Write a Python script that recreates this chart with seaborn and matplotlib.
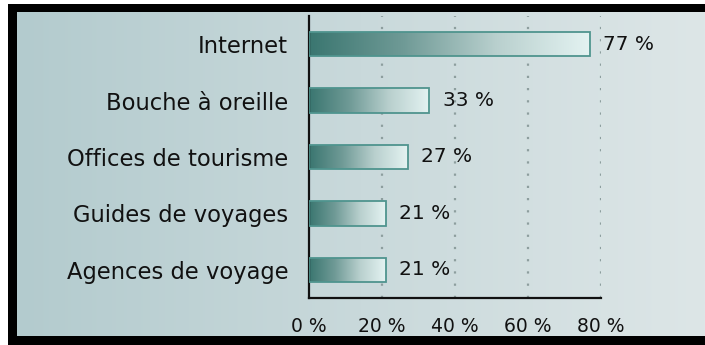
import numpy as np
import matplotlib
matplotlib.use("Agg")
import matplotlib.pyplot as plt
from matplotlib.colors import LinearSegmentedColormap
from matplotlib.patches import Rectangle
import seaborn as sns

categories = ["Internet", "Bouche à oreille", "Offices de tourisme",
              "Guides de voyages", "Agences de voyage"]
values = [77, 33, 27, 21, 21]
xticks = [0, 20, 40, 60, 80]
xtick_labels = ["0 %", "20 %", "40 %", "60 %", "80 %"]

sns.set_style("white")
plt.rcParams["font.family"] = ["DejaVu Sans"]

W, H = 705, 345
fig = plt.figure(figsize=(W / 100, H / 100), dpi=100, facecolor="white")

def px_rect(x0, y0, x1, y1):
    return [x0 / W, 1 - y1 / H, (x1 - x0) / W, (y1 - y0) / H]

# background panel gradient
bg = fig.add_axes(px_rect(17, 12, 705, 336), zorder=-2)
bg_cmap = LinearSegmentedColormap.from_list("bg", ["#b3cbce", "#c9d9db", "#dde6e7"])
bg.imshow(np.linspace(0, 1, 256).reshape(1, -1), cmap=bg_cmap, aspect="auto",
          extent=[0, 1, 0, 1])
bg.set_axis_off()

# black borders
for (x0, y0, x1, y1) in [(8, 4, 17, 345), (8, 4, 705, 12), (8, 336, 705, 345)]:
    r = px_rect(x0, y0, x1, y1)
    fig.patches.append(Rectangle((r[0], r[1]), r[2], r[3], transform=fig.transFigure,
                                 facecolor="black", edgecolor="none", zorder=5))

ax = fig.add_axes(px_rect(309, 16, 601, 298))
ax.set_facecolor("none")

sns.barplot(x=values, y=categories, orient="h", ax=ax, width=0.43,
            color="#7fa9a5", edgecolor="#4f948e", linewidth=1.3, zorder=3)

bar_cmap = LinearSegmentedColormap.from_list(
    "bar", ["#3a7670", "#6f9a96", "#b9d0ce", "#e4f3f2"])
grad = np.linspace(0, 1, 256).reshape(1, -1)
for p in ax.patches:
    x, y = p.get_x(), p.get_y()
    w, h = p.get_width(), p.get_height()
    p.set_facecolor("none")
    im = ax.imshow(grad, cmap=bar_cmap, aspect="auto",
                   extent=[x, x + w, y + h, y], zorder=2)
    im.set_clip_path(p)

ax.set_xlim(0, 80)
ax.set_ylim(4.5, -0.5)
ax.set_aspect("auto")

for v in xticks[1:]:
    ax.axvline(v, color="#8d9e9e", linestyle=(0, (1, 4.5)), linewidth=1.6, zorder=1)

for i, v in enumerate(values):
    ax.text(v + 3.6, i, f"{v} %", va="center", ha="left", fontsize=14.5,
            color="#111111", clip_on=False)

ax.set_xticks(xticks)
ax.set_xticklabels(xtick_labels, fontsize=13.5, color="#111111")
ax.tick_params(axis="x", length=0, pad=14)
ax.tick_params(axis="y", length=0, pad=15, labelsize=16.3, labelcolor="#111111")
ax.set_xlabel("")
ax.set_ylabel("")

for s in ["top", "right"]:
    ax.spines[s].set_visible(False)
for s in ["left", "bottom"]:
    ax.spines[s].set_color("#111111")
    ax.spines[s].set_linewidth(1.6)

fig.savefig("out.png", dpi=100, facecolor="white")
